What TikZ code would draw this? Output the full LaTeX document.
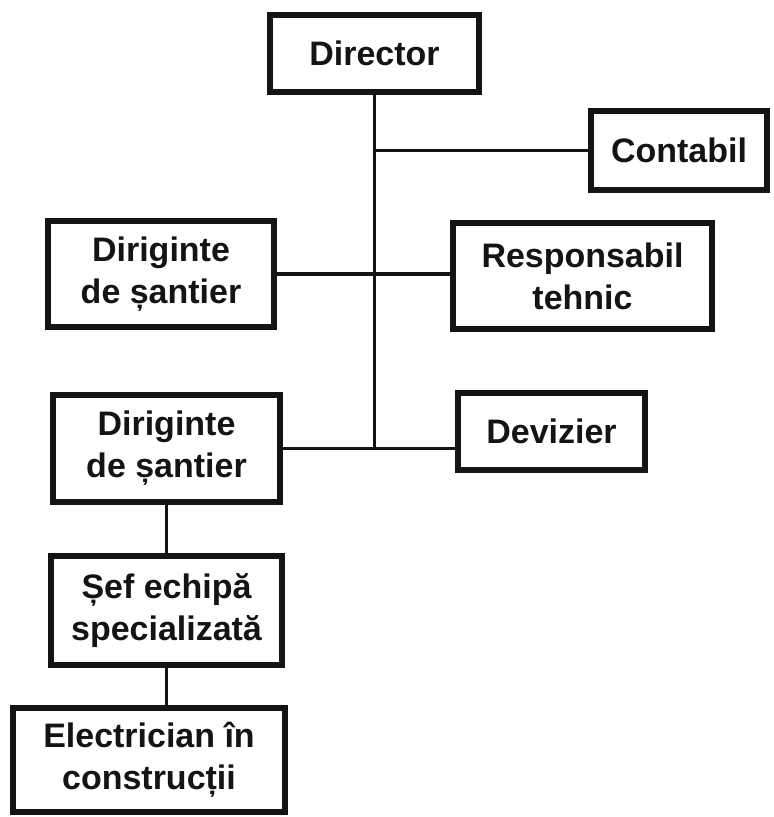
\documentclass[tikz,border=0pt]{standalone}
\usepackage{fontspec}
\setmainfont{Liberation Sans}
\usetikzlibrary{positioning}
\definecolor{orgInk}{HTML}{141414}
\tikzset{
  every picture/.style={font=\bfseries\fontsize{29}{36}\selectfont, text=orgInk},
  org box/.style={draw=orgInk, line width=5pt, fill=white, align=center,
    inner sep=0pt},
  org link/.style={draw=orgInk, line width=2.6pt, line cap=butt}
}
\begin{document}
\begin{tikzpicture}[x=0.03cm,y=-0.03cm]
  \useasboundingbox (0,0) rectangle (773,817);
  % boxes
  \node[org box, minimum width=6.27cm, minimum height=2.31cm] (director) at (374.5,53.5) {Director};
  \node[org box, minimum width=5.28cm, minimum height=2.37cm] (contabil) at (679,150.5) {Contabil};
  \node[org box, minimum width=6.78cm, minimum height=3.18cm] (dirig1) at (161,274) {Diriginte\\de șantier};
  \node[org box, minimum width=7.77cm, minimum height=3.18cm] (resp) at (582.5,276) {Responsabil\\tehnic};
  \node[org box, minimum width=6.81cm, minimum height=3.21cm] (dirig2) at (166.5,448.5) {Diriginte\\de șantier};
  \node[org box, minimum width=5.61cm, minimum height=2.31cm] (deviz) at (551.5,431.5) {Devizier};
  \node[org box, minimum width=6.93cm, minimum height=3.27cm] (sef) at (166.5,610.5) {Șef echipă\\specializată};
  \node[org box, minimum width=8.16cm, minimum height=3.12cm] (elec) at (149,760) {Electrician în\\construcții};
  % links
  \draw[org link] (director.south) -- (director.south |- dirig2.east);
  \draw[org link] (director.south |- contabil.west) -- (contabil.west);
  \draw[org link] (dirig1.east) -- (dirig1.east -| resp.west);
  \draw[org link] (dirig2.east) -- (dirig2.east -| deviz.west);
  \draw[org link] (dirig2.south) -- (sef.north);
  \draw[org link] (sef.south) -- (sef.south |- elec.north);
\end{tikzpicture}
\end{document}
